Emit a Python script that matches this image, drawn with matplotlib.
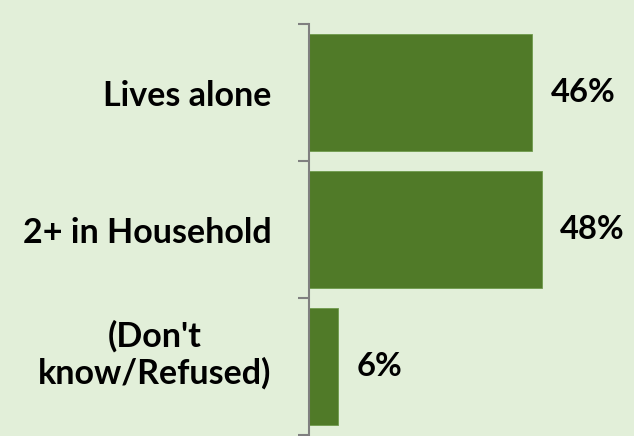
import matplotlib.pyplot as plt
from matplotlib.transforms import ScaledTranslation

# data
categories = ['Lives alone', '2+ in Household', "(Don't\nknow/Refused)"]
values = [46, 48, 6]

bg = '#E2EFD9'
bar_color = '#507A28'

fig = plt.figure(figsize=(6.34, 4.36), dpi=100, facecolor=bg)
ax = fig.add_axes([309 / 634, 0.0, 1 - 309 / 634, 1 - 24 / 436])
ax.set_facecolor(bg)

pos = list(range(len(categories)))
ax.barh(pos, values, height=0.85, color=bar_color, edgecolor='#6F9A4C', linewidth=0.6)

ax.set_xlim(0, 66.9)
ax.set_ylim(len(categories) - 0.5 + 0.005, -0.5)

# value labels to the right of each bar
for p, v in zip(pos, values):
    ax.annotate(f'{v}%', (v, p), xytext=(13, 0), textcoords='offset points',
                ha='left', va='center', fontsize=23.5, fontweight='bold',
                family='Lato', color='black')

# boundary ticks on the axis, labels in the middle
ax.set_yticks([p - 0.5 for p in pos] + [pos[-1] + 0.5])
ax.set_yticklabels([])
ax.tick_params(axis='y', which='major', length=8, width=1.5, color='#808080', direction='out')
ax.set_yticks(pos, minor=True)
ax.set_yticklabels(categories, minor=True, fontsize=24.5, fontweight='bold',
                   family='Lato', multialignment='center', linespacing=1.15)
ax.tick_params(axis='y', which='minor', length=0, pad=27)

# the two-line label sits a little higher than the bar centre
lbl = ax.get_yticklabels(minor=True)[-1]
lbl.set_transform(lbl.get_transform() + ScaledTranslation(0, 17 / 100, fig.dpi_scale_trans))

ax.set_xticks([])
for s in ['top', 'right', 'bottom']:
    ax.spines[s].set_visible(False)
ax.spines['left'].set_color('#808080')
ax.spines['left'].set_linewidth(1.5)

fig.savefig('out.png', dpi=100, facecolor=bg)
